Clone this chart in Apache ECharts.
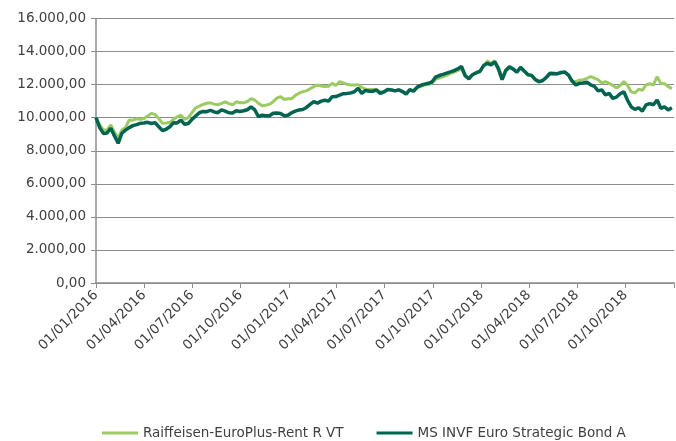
<!DOCTYPE html>
<html>
<head>
<meta charset="utf-8">
<script src="https://cdn.jsdelivr.net/npm/echarts@6/dist/echarts.min.js"></script>
<style>
  html, body { margin: 0; padding: 0; background: #fff; }
  #chart { width: 676px; height: 441px; }
</style>
</head>
<body>
<div id="chart"></div>
<script>
/* weekly values */
var dates = [
  '2016-01-01','2016-01-08','2016-01-15','2016-01-22','2016-01-29','2016-02-05','2016-02-12','2016-02-19','2016-02-26',
  '2016-03-04','2016-03-11','2016-03-18','2016-03-25','2016-04-01','2016-04-08','2016-04-15','2016-04-22','2016-04-29',
  '2016-05-06','2016-05-13','2016-05-20','2016-05-27','2016-06-03','2016-06-10','2016-06-17','2016-06-24','2016-07-01',
  '2016-07-08','2016-07-15','2016-07-22','2016-07-29','2016-08-05','2016-08-12','2016-08-19','2016-08-26','2016-09-02',
  '2016-09-09','2016-09-16','2016-09-23','2016-09-30','2016-10-07','2016-10-14','2016-10-21','2016-10-28','2016-11-04',
  '2016-11-11','2016-11-18','2016-11-25','2016-12-02','2016-12-09','2016-12-16','2016-12-23','2016-12-30',
  '2017-01-06','2017-01-13','2017-01-20','2017-01-27','2017-02-03','2017-02-10','2017-02-17','2017-02-24','2017-03-03',
  '2017-03-10','2017-03-17','2017-03-24','2017-03-31','2017-04-07','2017-04-14','2017-04-21','2017-04-28','2017-05-05',
  '2017-05-12','2017-05-19','2017-05-26','2017-06-02','2017-06-09','2017-06-16','2017-06-23','2017-06-30','2017-07-07',
  '2017-07-14','2017-07-21','2017-07-28','2017-08-04','2017-08-11','2017-08-18','2017-08-25','2017-09-01','2017-09-08',
  '2017-09-15','2017-09-22','2017-09-29','2017-10-06','2017-10-13','2017-10-20','2017-10-27','2017-11-03','2017-11-10',
  '2017-11-17','2017-11-24','2017-12-01','2017-12-08','2017-12-15','2017-12-22','2017-12-29',
  '2018-01-05','2018-01-12','2018-01-19','2018-01-26','2018-02-02','2018-02-09','2018-02-16','2018-02-23','2018-03-02',
  '2018-03-09','2018-03-16','2018-03-23','2018-03-30','2018-04-06','2018-04-13','2018-04-20','2018-04-27','2018-05-04',
  '2018-05-11','2018-05-18','2018-05-25','2018-06-01','2018-06-08','2018-06-15','2018-06-22','2018-06-29','2018-07-06',
  '2018-07-13','2018-07-20','2018-07-27','2018-08-03','2018-08-10','2018-08-17','2018-08-24','2018-08-31','2018-09-07',
  '2018-09-14','2018-09-21','2018-09-28','2018-10-05','2018-10-12','2018-10-19','2018-10-26','2018-11-02','2018-11-09',
  '2018-11-16','2018-11-23','2018-11-30','2018-12-07','2018-12-14','2018-12-21','2018-12-28'
];

var raiffeisen = [
  10000,9580,9260,9250,9560,9120,8770,9250,9400,
  9860,9850,9930,9900,9950,10100,10260,10200,9950,
  9660,9680,9720,9900,10050,10150,9900,10000,10300,
  10600,10700,10800,10870,10900,10820,10780,10870,10950,
  10850,10780,10960,10900,10900,10980,11150,11070,10870,
  10720,10750,10820,10970,11180,11270,11100,11150,
  11150,11350,11480,11570,11620,11750,11880,11980,11920,
  11880,11900,12080,11950,12180,12100,12020,11980,11980,
  12000,11840,11720,11700,11700,11680,11550,11570,11680,
  11700,11630,11700,11600,11450,11680,11620,11820,11900,
  11980,12000,12080,12330,12400,12480,12560,12680,12750,
  12850,12950,12500,12400,12620,12700,12780,
  13150,13420,13300,13450,13050,12400,12880,13000,12920,
  12780,12980,12820,12620,12540,12320,12160,12220,12420,
  12650,12600,12640,12700,12740,12580,12220,12180,12280,
  12300,12380,12480,12400,12300,12100,12180,12080,11950,
  11800,11950,12180,11950,11560,11500,11720,11650,11980,
  12050,11980,12480,12080,12060,11880,11760
];

var msInvf = [
  10000,9400,9050,9080,9360,8900,8450,9060,9250,
  9400,9520,9580,9660,9680,9720,9650,9700,9450,
  9220,9300,9450,9700,9680,9850,9600,9650,9900,
  10100,10300,10380,10360,10450,10350,10300,10470,10400,
  10300,10280,10420,10380,10420,10480,10650,10480,10060,
  10150,10120,10120,10270,10280,10250,10120,10150,
  10300,10400,10470,10500,10620,10800,10970,10880,11000,
  11050,11000,11270,11280,11370,11450,11470,11500,11570,
  11780,11470,11650,11600,11600,11680,11470,11560,11700,
  11680,11620,11680,11580,11430,11700,11600,11850,11950,
  12030,12080,12160,12450,12550,12620,12700,12770,12850,
  12950,13100,12550,12350,12600,12720,12800,
  13150,13290,13190,13380,12950,12300,12850,13080,12950,
  12750,13050,12820,12600,12560,12300,12180,12250,12450,
  12690,12680,12660,12740,12760,12580,12200,11980,12080,
  12100,12150,11980,11900,11620,11680,11380,11470,11170,
  11250,11450,11570,11050,10650,10500,10600,10400,10770,
  10850,10780,11070,10570,10650,10470,10600
];

var quarterTicks = [
  '2016-01-01','2016-04-01','2016-07-01','2016-10-01',
  '2017-01-01','2017-04-01','2017-07-01','2017-10-01',
  '2018-01-01','2018-04-01','2018-07-01','2018-10-01','2019-01-01'
];
var quarterLabels = quarterTicks.slice(0, 12);

var seriesNames = ['Raiffeisen-EuroPlus-Rent R VT', 'MS INVF Euro Strategic Bond A'];

function toTs(s) { return Date.parse(s); }
function pairs(vals) {
  return dates.map(function (d, i) { return [toTs(d), vals[i]]; });
}
function pad(n) { return (n < 10 ? '0' : '') + n; }
function fmtDate(v) {
  var d = new Date(v);
  return pad(d.getUTCDate()) + '/' + pad(d.getUTCMonth() + 1) + '/' + d.getUTCFullYear();
}
function fmtNum(v) {
  var s = String(Math.round(v));
  s = s.replace(/\B(?=(\d{3})+(?!\d))/g, '.');
  return s + ',00';
}

var FONT = 'DejaVu Sans';
var TXT = '#404040';
var GRAY = '#8c8c8c';

var myChart = echarts.init(document.getElementById('chart'));
var option = {
  animation: false,
  backgroundColor: '#fff',
  grid: { left: 96, right: 2, top: 18.5, bottom: 158, containLabel: false },
  legend: {
    left: 97,
    top: 421,
    icon: 'rect',
    itemWidth: 36,
    itemHeight: 3,
    itemGap: 33,
    textStyle: { fontFamily: FONT, fontSize: 13.5, color: TXT },
    data: seriesNames
  },
  xAxis: {
    type: 'value',
    min: toTs('2016-01-01'),
    max: toTs('2019-01-01'),
    axisLine: { show: true, lineStyle: { color: GRAY, width: 1.5 } },
    axisTick: {
      show: true, length: 5,
      customValues: quarterTicks.map(toTs),
      lineStyle: { color: GRAY, width: 1 }
    },
    splitLine: { show: false },
    axisLabel: {
      customValues: quarterLabels.map(toTs),
      rotate: 45,
      margin: 10,
      fontFamily: FONT,
      fontSize: 13.5,
      color: TXT,
      formatter: function (v) { return fmtDate(v); }
    }
  },
  yAxis: {
    type: 'value',
    min: 0,
    max: 16000,
    interval: 2000,
    axisLine: { show: true, lineStyle: { color: GRAY, width: 1.5 } },
    axisTick: { show: true, length: 5, lineStyle: { color: GRAY } },
    splitLine: { show: true, lineStyle: { color: GRAY, width: 1 } },
    axisLabel: {
      margin: 10,
      fontFamily: FONT,
      fontSize: 13.5,
      color: TXT,
      formatter: function (v) { return fmtNum(v); }
    }
  },
  series: [
    {
      name: seriesNames[0],
      type: 'line',
      showSymbol: false,
      itemStyle: { color: '#9BCB62' },
      lineStyle: { color: '#9BCB62', width: 3 },
      data: pairs(raiffeisen)
    },
    {
      name: seriesNames[1],
      type: 'line',
      showSymbol: false,
      itemStyle: { color: '#006450' },
      lineStyle: { color: '#006450', width: 3.5 },
      data: pairs(msInvf)
    }
  ]
};
myChart.setOption(option);
</script>
</body>
</html>
